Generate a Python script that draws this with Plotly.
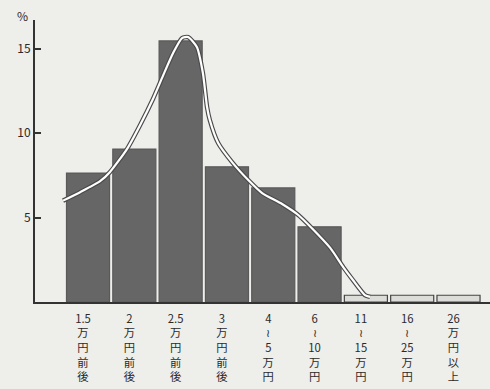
import plotly.graph_objects as go

categories = ["1.5<br>万<br>円<br>前<br>後", "2<br>万<br>円<br>前<br>後", "2.5<br>万<br>円<br>前<br>後",
              "3<br>万<br>円<br>前<br>後", "4<br>≀<br>5<br>万<br>円", "6<br>≀<br>10<br>万<br>円",
              "11<br>≀<br>15<br>万<br>円", "16<br>≀<br>25<br>万<br>円", "26<br>万<br>円<br>以<br>上"]
bar_values = [7.63, 9.05, 15.45, 8.0, 6.75, 4.45, 0.4, 0.4, 0.4]

curve_x = [-0.54, -0.17, 0.26, 0.475, 0.84, 1.12, 1.40, 1.62, 1.84, 2.03, 2.16, 2.35, 2.48,
           2.57, 2.63, 2.81, 3.11, 3.46, 3.76, 4.19, 4.54, 4.84, 5.23, 5.51, 5.72, 5.98, 6.09]
curve_y = [6.0, 6.5, 7.15, 7.7, 9.05, 10.45, 12.0, 13.4, 14.75, 15.62, 15.68, 15.09, 13.55,
           11.54, 10.77, 9.41, 8.28, 7.22, 6.45, 5.8, 5.15, 4.35, 3.2, 2.07, 1.30, 0.41, 0.30]

y_ticks = [5, 10, 15]

xs = list(range(len(categories)))
fill = ["#666666"] * 6 + ["#dcdcd8"] * 3
outline = ["#5a5a5a"] * 6 + ["#444444"] * 3

fig = go.Figure()
fig.add_trace(go.Bar(x=xs, y=bar_values, marker=dict(color=fill, line=dict(color=outline, width=1.2)),
                     width=0.93, hoverinfo="skip"))
fig.add_trace(go.Scatter(x=curve_x, y=curve_y, mode="lines",
                         line=dict(color="#4a4a4a", width=4.5, shape="spline", smoothing=0.6)))
fig.add_trace(go.Scatter(x=curve_x, y=curve_y, mode="lines",
                         line=dict(color="#ffffff", width=2.2, shape="spline", smoothing=0.6)))

fig.update_layout(
    width=490, height=389,
    margin=dict(l=35, r=0, t=20, b=87),
    paper_bgcolor="#eeeeea", plot_bgcolor="#eeeeea",
    showlegend=False,
    font=dict(family="Noto Sans CJK JP", size=11, color="#2a2a2a"),
    xaxis=dict(range=[-1.145, 8.68], tickmode="array", tickvals=xs, ticktext=categories,
               showgrid=False, zeroline=False, showline=True, linecolor="#333333", linewidth=2,
               ticks="", tickangle=0, ticklabelshift=-5, ticklabelstandoff=5, automargin=False,
               tickfont=dict(size=11.3)),
    yaxis=dict(range=[0, 16.69], tickmode="array", tickvals=y_ticks, showgrid=False,
               zeroline=False, showline=True, linecolor="#333333", linewidth=2,
               ticks="inside", ticklen=6, tickwidth=1.5, tickcolor="#333333", automargin=False,
               tickfont=dict(size=12)),
    annotations=[dict(text="%", xref="paper", yref="paper", x=(22 - 35) / 455, y=1 + 5 / 282,
                      xanchor="center", yanchor="middle", showarrow=False, font=dict(size=12))],
)
fig.write_html("out.html", config={"displayModeBar": False},
               post_script="document.body.style.margin='0';document.body.style.overflow='hidden';")
